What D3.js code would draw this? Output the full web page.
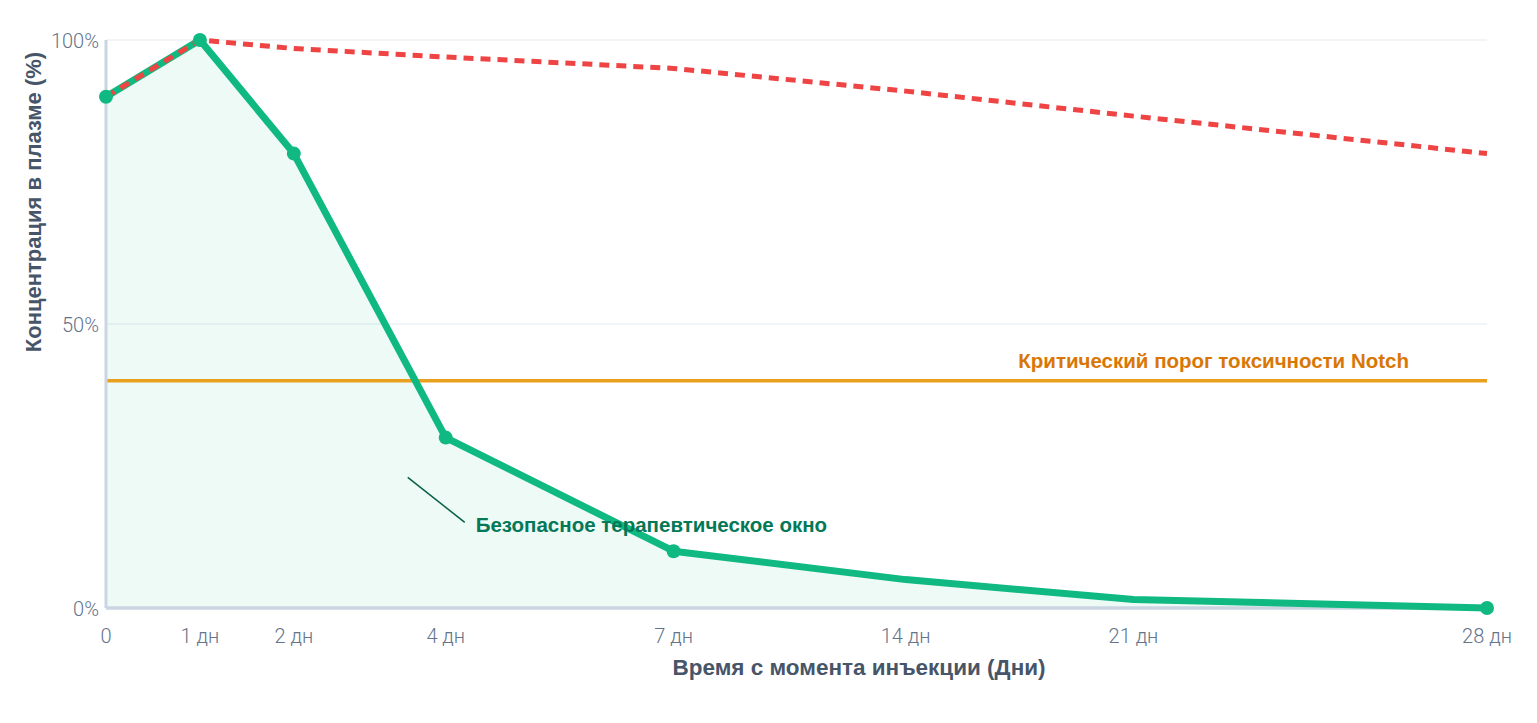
<!DOCTYPE html>
<html>
<head>
<meta charset="utf-8">
<script src="https://cdn.jsdelivr.net/npm/d3@7"></script>
<style>
  body { margin: 0; background: #fff; }
  svg { display: block; font-family: "Liberation Sans", Arial, sans-serif; }
</style>
</head>
<body>
<div class="chart"></div>
<script>
// --- DATA --- //
const days = [0, 1, 2, 4, 7, 14, 21, 28];
const dayLabels = ["0", "1 дн", "2 дн", "4 дн", "7 дн", "14 дн", "21 дн", "28 дн"];
const safeDrug = [90, 100, 80, 30, 10, 5, 1.5, 0];
const toxicDrug = [90, 100, 98.5, 97, 95, 91, 86.6, 80];
const markerDays = [0, 1, 2, 4, 7, 28];
const yTicks = [0, 50, 100];
const threshold = 40;
const thresholdLabel = "Критический порог токсичности Notch";
const safeLabel = "Безопасное терапевтическое окно";
const xTitle = "Время с момента инъекции (Дни)";
const yTitle = "Концентрация в плазме (%)";

// set up svg
const width = 1537;
const height = 723;
const margin = {top: 40, right: 50, bottom: 115, left: 106};
const innerW = width - margin.left - margin.right;
const innerH = height - margin.top - margin.bottom;

const svg = d3.select('.chart').append('svg')
    .attr('width', width)
    .attr('height', height)
    .attr('viewBox', [0, 0, width, height]);

const g = svg.append('g')
    .attr('transform', `translate(${margin.left},${margin.top})`);

// uneven time axis: piecewise linear
const xStops = [0, .068, .136, .246, .411, .579, .744, 1];
const x = d3.scaleLinear()
    .domain(days)
    .range(xStops.map(f => f * innerW));

const y = d3.scaleLinear()
    .domain([0, 100])
    .range([innerH, 0]);

const green = "#10b981";
const red = "#ef4444";

// gridlines
g.selectAll('line.grid')
    .data(yTicks.filter(d => d > 0))
    .join('line')
    .attr('class', 'grid')
    .attr('x1', 0).attr('x2', innerW)
    .attr('y1', d => y(d)).attr('y2', d => y(d))
    .attr('stroke', '#eef2f6')
    .attr('stroke-width', 1.5);

const pts = days.map((d, i) => ({day: d, safe: safeDrug[i], toxic: toxicDrug[i]}));

// area under safe curve
g.append('path')
    .datum(pts)
    .attr('d', d3.area().x(d => x(d.day)).y0(y(0)).y1(d => y(d.safe)))
    .attr('fill', green)
    .attr('fill-opacity', 0.07);

// threshold line
g.append('line')
    .attr('x1', 0).attr('x2', innerW)
    .attr('y1', y(threshold)).attr('y2', y(threshold))
    .attr('stroke', '#e9a01e')
    .attr('stroke-width', 3.5);

g.append('text')
    .attr('x', innerW - 78)
    .attr('y', y(threshold) - 13)
    .attr('text-anchor', 'end')
    .attr('fill', '#d97706')
    .attr('font-size', 20.5)
    .attr('font-weight', 'bold')
    .text(thresholdLabel);

// axes lines
g.append('line')
    .attr('x1', 0).attr('x2', 0)
    .attr('y1', 0).attr('y2', innerH)
    .attr('stroke', '#cbd5e1')
    .attr('stroke-width', 3);

g.append('line')
    .attr('x1', 0).attr('x2', innerW)
    .attr('y1', innerH).attr('y2', innerH)
    .attr('stroke', '#cbd5e1')
    .attr('stroke-width', 3.5);

// safe line
g.append('path')
    .datum(pts)
    .attr('d', d3.line().x(d => x(d.day)).y(d => y(d.safe)))
    .attr('fill', 'none')
    .attr('stroke', green)
    .attr('stroke-width', 7)
    .attr('stroke-linejoin', 'round')
    .attr('stroke-linecap', 'round');

// toxic line (dashed)
g.append('path')
    .datum(pts)
    .attr('d', d3.line().x(d => x(d.day)).y(d => y(d.toxic)))
    .attr('fill', 'none')
    .attr('stroke', red)
    .attr('stroke-width', 5)
    .attr('stroke-dasharray', '10,7');

// markers
g.selectAll('circle')
    .data(pts.filter(d => markerDays.includes(d.day)))
    .join('circle')
    .attr('cx', d => x(d.day))
    .attr('cy', d => y(d.safe))
    .attr('r', 7)
    .attr('fill', green);

// tick labels
g.selectAll('text.ytick')
    .data(yTicks)
    .join('text')
    .attr('class', 'ytick')
    .attr('x', -7)
    .attr('y', d => y(d))
    .attr('dy', d => d === 0 ? '0.38em' : '0.4em')
    .attr('text-anchor', 'end')
    .attr('fill', '#64748b')
    .attr('font-family', 'Roboto, sans-serif')
    .attr('font-weight', 300)
    .attr('font-size', 20)
    .text(d => d + '%');

g.selectAll('text.xtick')
    .data(days)
    .join('text')
    .attr('class', 'xtick')
    .attr('x', d => x(d))
    .attr('y', innerH + 35)
    .attr('text-anchor', 'middle')
    .attr('fill', '#64748b')
    .attr('font-family', 'Roboto, sans-serif')
    .attr('font-weight', 300)
    .attr('font-size', 20)
    .text((d, i) => dayLabels[i]);

// annotation
const ax = x(3.5), ay = y(23);
g.append('line')
    .attr('x1', ax).attr('y1', ay)
    .attr('x2', ax + 57).attr('y2', ay + 45)
    .attr('stroke', '#065f46')
    .attr('stroke-width', 1.5);

g.append('text')
    .attr('x', ax + 68)
    .attr('y', ay + 55)
    .attr('fill', '#047857')
    .attr('font-size', 20.5)
    .attr('font-weight', 'bold')
    .text(safeLabel);

// axis titles
svg.append('text')
    .attr('x', 859)
    .attr('y', 675)
    .attr('text-anchor', 'middle')
    .attr('fill', '#475569')
    .attr('font-size', 22.5)
    .attr('font-weight', 'bold')
    .text(xTitle);

svg.append('text')
    .attr('transform', 'translate(41,202) rotate(-90)')
    .attr('text-anchor', 'middle')
    .attr('fill', '#475569')
    .attr('font-size', 22)
    .attr('font-weight', 'bold')
    .text(yTitle);
</script>
</body>
</html>
